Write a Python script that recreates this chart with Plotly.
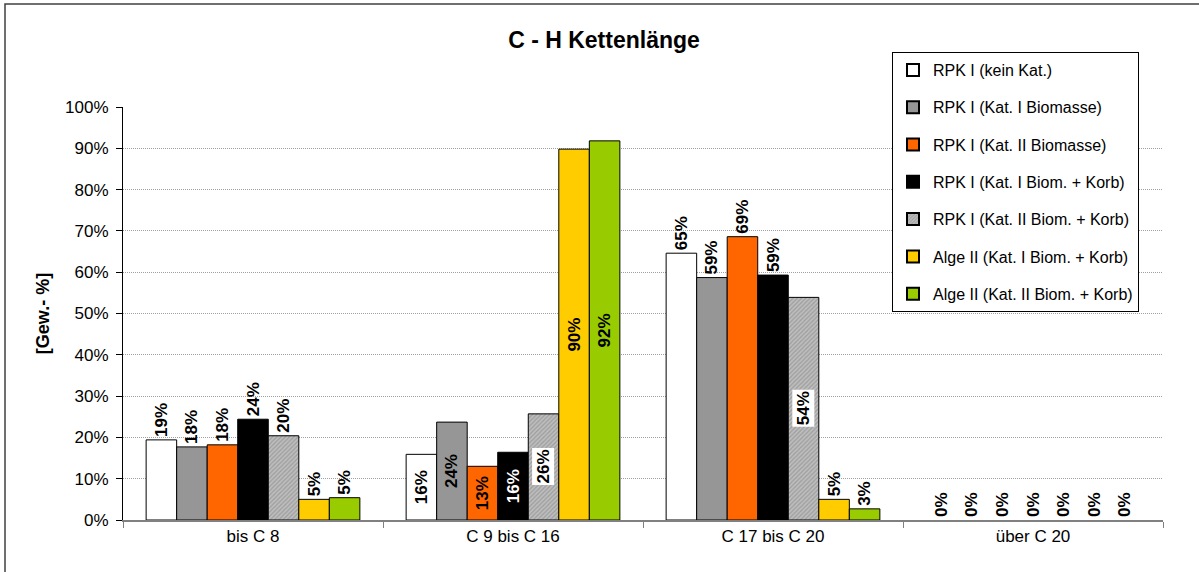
import plotly.graph_objects as go

# Chain-length fractions per product, in weight percent
categories = ["bis C 8", "C 9 bis C 16", "C 17 bis C 20", "über C 20"]

series_names = [
    "RPK I (kein Kat.)",
    "RPK I (Kat. I Biomasse)",
    "RPK I (Kat. II Biomasse)",
    "RPK I (Kat. I Biom. + Korb)",
    "RPK I (Kat. II Biom. + Korb)",
    "Alge II (Kat. I Biom. + Korb)",
    "Alge II (Kat. II Biom. + Korb)",
]

rpk_kein_kat = [19.4, 15.9, 64.6, 0.0]
rpk_kat1_bio = [17.7, 23.7, 58.7, 0.0]
rpk_kat2_bio = [18.2, 13.0, 68.6, 0.0]
rpk_kat1_korb = [24.4, 16.4, 59.3, 0.0]
rpk_kat2_korb = [20.4, 25.7, 53.9, 0.0]
alge_kat1_korb = [5.0, 89.8, 5.0, 0.0]
alge_kat2_korb = [5.4, 91.8, 2.7, 0.0]

y_ticks = [0, 10, 20, 30, 40, 50, 60, 70, 80, 90, 100]
y_tick_labels = [f"{t}%" for t in y_ticks]

series_values = [
    rpk_kein_kat, rpk_kat1_bio, rpk_kat2_bio, rpk_kat1_korb,
    rpk_kat2_korb, alge_kat1_korb, alge_kat2_korb,
]

# Styling per series
fill_colors = ["#FFFFFF", "#969696", "#FF6600", "#000000", "#B0B0B0", "#FFCC00", "#99CC00"]
label_positions = ["outside", "inside", "outside", "outside"]  # per category
FONT = "Arial, Liberation Sans, sans-serif"
BARGAP = 0.178

n_series = len(series_values)
bar_w = (1 - BARGAP) / n_series

fig = go.Figure()
boxed_labels = []  # labels drawn with a white box on the hatched series

for i, (name, vals, col) in enumerate(zip(series_names, series_values, fill_colors)):
    texts, positions, tcolors = [], [], []
    for j, v in enumerate(vals):
        label = f"{v:.0f}%"
        pos = label_positions[j]
        if i == 4 and v > 0 and (pos == "inside" or j == 2):
            boxed_labels.append((j, i, v, label))
            texts.append("")
            positions.append("none")
        else:
            texts.append(label)
            positions.append(pos)
        tcolors.append("#FFFFFF" if (col == "#000000" and positions[-1] == "inside") else "#000000")

    marker = dict(color=col,
                  line=dict(color="#000000", width=[1 if v > 0 else 0 for v in vals]))
    if i == 4:
        marker["pattern"] = dict(shape="/", fgcolor="#7C7C7C", bgcolor="#BEBEBE",
                                 size=3, solidity=0.4)
    fig.add_trace(go.Bar(
        name=name, x=categories, y=vals, marker=marker,
        text=texts, textposition=positions, textangle=-90,
        insidetextanchor="middle", constraintext="none", cliponaxis=False,
        textfont=dict(family=FONT, size=17, color=tcolors, weight="bold"),
        legendgroup=name, hoverinfo="skip",
    ))

annotations = []
for j, i, v, label in boxed_labels:
    annotations.append(dict(
        x=j + (i - (n_series - 1) / 2) * bar_w, y=v / 2, xref="x", yref="y",
        text=f"<b>{label}</b>", showarrow=False, textangle=-90,
        bgcolor="#FFFFFF", borderpad=1,
        font=dict(family=FONT, size=17, color="#000000"),
    ))

PLOT_L, PLOT_R, PLOT_T, PLOT_B = 123, 1163, 107, 520
W, H = 1199, 572
pw, ph = PLOT_R - PLOT_L, PLOT_B - PLOT_T

fig.update_layout(
    width=W, height=H,
    margin=dict(l=PLOT_L, r=W - PLOT_R, t=PLOT_T, b=H - PLOT_B, pad=0),
    paper_bgcolor="#FFFFFF", plot_bgcolor="#FFFFFF",
    font=dict(family=FONT, size=16, color="#000000"),
    barmode="group", bargap=BARGAP, bargroupgap=0,
    title=dict(text="<b>C - H Kettenlänge</b>", x=604 / W, xref="container",
               xanchor="center", y=1 - 40 / H, yanchor="middle",
               font=dict(family=FONT, size=23, color="#000000")),
    xaxis=dict(
        type="category", tickson="boundaries", ticks="outside", ticklen=6,
        tickcolor="#808080", showline=True, linecolor="#808080", linewidth=2,
        showgrid=False, tickfont=dict(family=FONT, size=17),
    ),
    yaxis=dict(
        range=[0, 100], tickvals=y_ticks, ticktext=y_tick_labels,
        ticks="outside", ticklen=6, tickcolor="#000000",
        showline=True, linecolor="#000000", linewidth=1,
        showgrid=True, gridcolor="#A0A0A0", gridwidth=1, griddash="1px,1px",
        zeroline=False, tickfont=dict(family=FONT, size=17),
        ticklabelstandoff=4,
        title=dict(text="<b>[Gew.- %]</b>", standoff=10,
                   font=dict(family=FONT, size=18)),
    ),
    legend=dict(
        x=(892 - PLOT_L) / pw, y=(PLOT_B - 52) / ph, xanchor="left", yanchor="top",
        bgcolor="#FFFFFF", bordercolor="#000000", borderwidth=1,
        font=dict(family=FONT, size=16), tracegroupgap=13.5,
        itemsizing="constant", itemwidth=30,
    ),
    annotations=annotations,
    shapes=[dict(
        type="rect", xref="paper", yref="paper",
        x0=(5 - PLOT_L) / pw, x1=(W + 10 - PLOT_L) / pw,
        y0=(PLOT_B - (H + 10)) / ph, y1=(PLOT_B - 4) / ph,
        line=dict(color="#404040", width=1.5), fillcolor="rgba(0,0,0,0)", layer="below",
    )],
)

fig.write_html("out.html")
